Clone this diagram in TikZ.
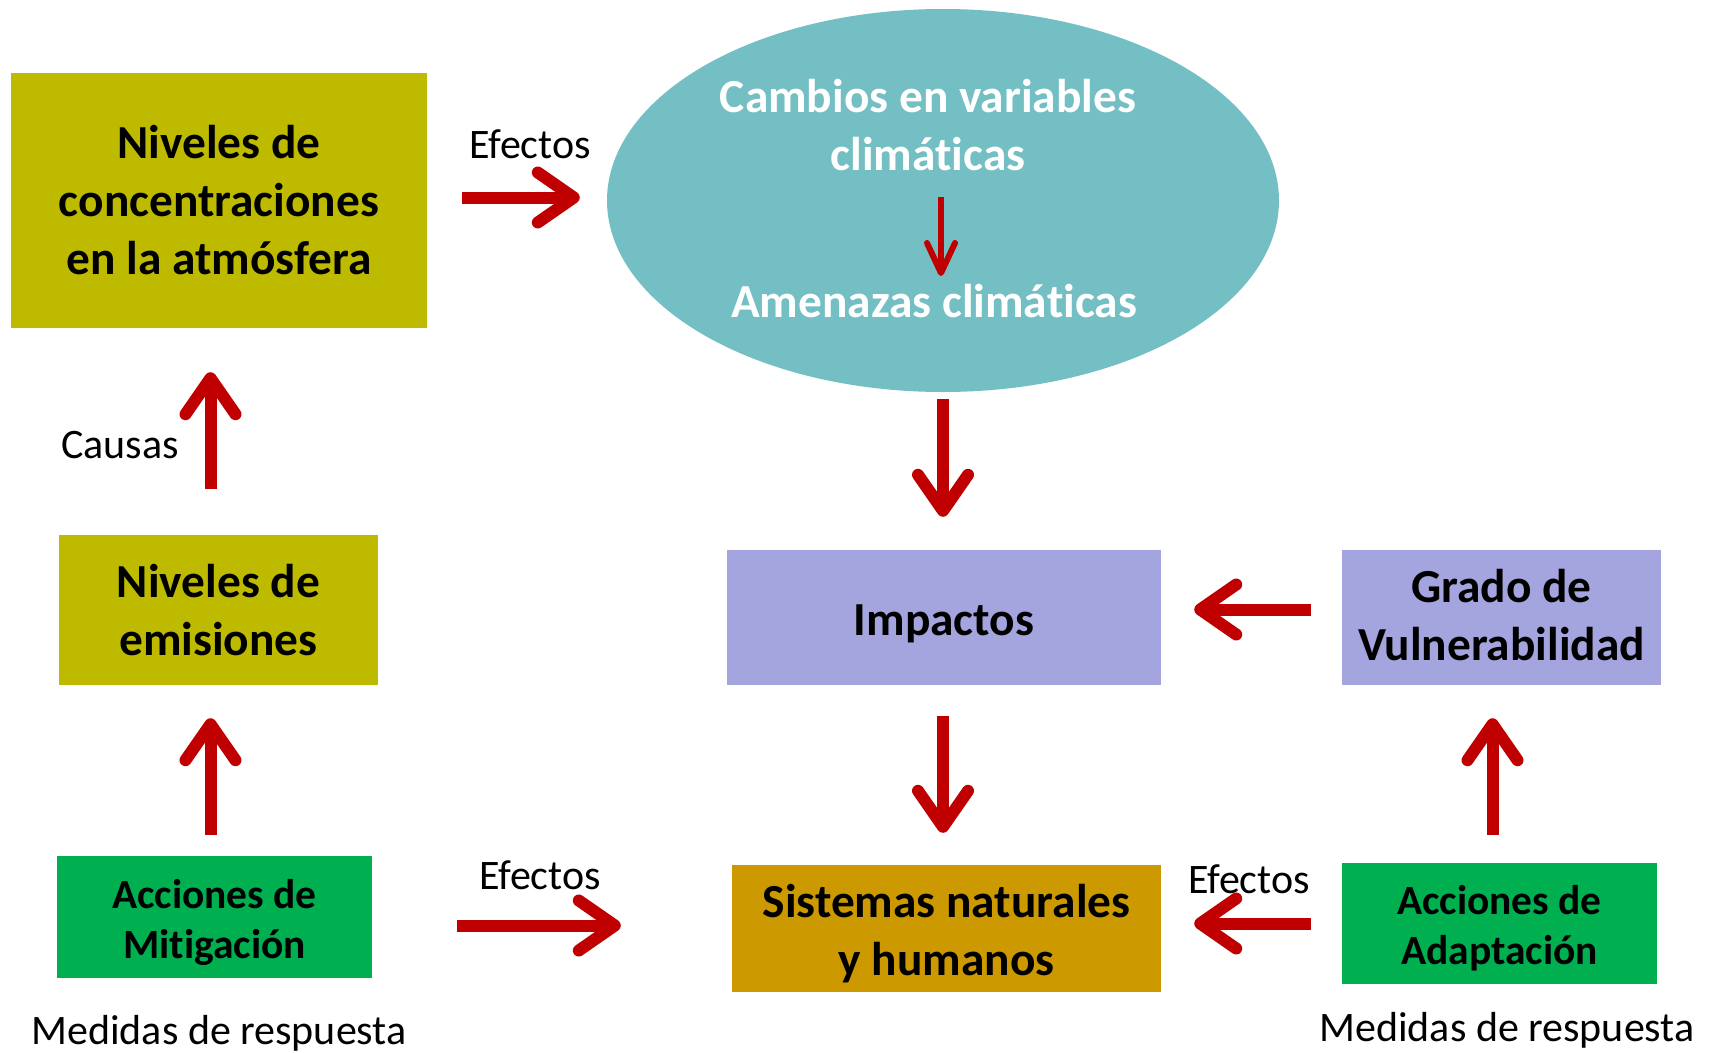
\documentclass[tikz,border=0pt]{standalone}
\usepackage{fontspec}
\setmainfont{Carlito}[Ligatures=NoCommon]
\usetikzlibrary{shapes.geometric,arrows.meta}
\definecolor{cOlive}{RGB}{190,186,0}
\definecolor{cTeal}{RGB}{116,191,196}
\definecolor{cLav}{RGB}{164,164,223}
\definecolor{cGreen}{RGB}{0,176,80}
\definecolor{cGold}{RGB}{204,153,0}
\definecolor{cRed}{RGB}{192,0,0}
\newcommand\fBig{\fontsize{47.4}{58}\selectfont}
\newcommand\fMid{\fontsize{41.5}{50}\selectfont}
\newcommand\fLbl{\fontsize{42}{50}\selectfont}
\newcommand\lowtxt[1]{\raisebox{-6pt}[\height][\depth]{\begin{tabular}{@{}c@{}}#1\end{tabular}}}
\begin{document}
\begin{tikzpicture}[x=1pt,y=-1pt,
  box/.style={rectangle, inner sep=0pt, align=center, font=\fBig\bfseries},
  mbox/.style={rectangle, inner sep=0pt, align=center, font=\fMid\bfseries},
  arr/.style={draw=cRed, line width=12pt, line cap=butt,
    -{Straight Barb[length=36pt,width=50pt,line cap=round,line join=round]}},
  sarr/.style={draw=cRed, line width=6pt,
    -{Straight Barb[length=30pt,width=28pt,line cap=round,line join=round]}},
  lbl/.style={inner sep=0pt, font=\fLbl},
  wtxt/.style={inner sep=0pt, align=center, text=white, font=\fBig\bfseries}]
\fill[white] (0,0) rectangle (1715,1052);
\useasboundingbox (0,0) rectangle (1715,1052);

% nodes
\node[box, fill=cOlive, minimum width=416pt, minimum height=255pt] (conc) at (219,200.5) {Niveles de\\concentraciones\\en la atmósfera};
\node[ellipse, fill=cTeal, inner sep=0pt, minimum width=672pt, minimum height=383pt] (ell) at (943,200.5) {};
\node[wtxt] (cam) at (928,125) {Cambios en variables\\climáticas};
\node[wtxt] (ame) at (934,301) {Amenazas climáticas};
\node[box, fill=cLav, minimum width=434pt, minimum height=135pt] (imp) at (944,617.5) {\lowtxt{Impactos}};
\node[box, fill=cLav, minimum width=319pt, minimum height=135pt] (vul) at (1501.5,617.5) {\raisebox{-2pt}[\height][\depth]{\begin{tabular}{@{}c@{}}Grado de\\Vulnerabilidad\end{tabular}}};
\node[box, fill=cOlive, minimum width=319pt, minimum height=150pt] (emi) at (218.5,610) {Niveles de\\emisiones};
\node[mbox, fill=cGreen, minimum width=315pt, minimum height=122pt] (mit) at (214.5,917) {\lowtxt{Acciones de\\Mitigación}};
\node[box, fill=cGold, minimum width=429pt, minimum height=127pt] (sis) at (946.5,928.5) {\lowtxt{Sistemas naturales\\y humanos}};
\node[mbox, fill=cGreen, minimum width=315pt, minimum height=121pt] (ada) at (1499.5,923.5) {\lowtxt{Acciones de\\Adaptación}};

% labels
\node[lbl] (ef1) at (530,144) {Efectos};
\node[lbl] (cau) at (120,445) {Causas};
\node[lbl] (ef2) at (540,875) {Efectos};
\node[lbl] (ef3) at (1249,879) {Efectos};
\node[lbl] (med1) at (219,1033) {Medidas de respuesta};
\node[lbl] (med2) at (1507,1030) {Medidas de respuesta};

% connectors
\draw[arr, shorten <=35pt, shorten >=27pt] ([yshift=3pt]conc.east) -- ([yshift=3pt]conc.east -| ell.west);
\draw[sarr, shorten <=26pt, shorten >=8pt] ([xshift=13pt]cam.south) -- ([xshift=7pt]ame.north);
\draw[arr, shorten <=7pt, shorten >=33pt] (ell.south) -- (ell.south |- imp.north);
\draw[arr, shorten <=31pt, shorten >=33pt] ([yshift=8pt]vul.west) -- ([yshift=8pt]vul.west -| imp.east);
\draw[arr, shorten <=46pt, shorten >=44pt] ([xshift=-8pt]emi.north) -- ([xshift=-8pt]emi.north |- conc.south);
\draw[arr, shorten <=21pt, shorten >=33pt] ([xshift=-4pt]mit.north) -- ([xshift=-4pt]mit.north |- emi.south);
\draw[arr, shorten <=85pt, shorten >=111pt] ([yshift=3pt]sis.west -| mit.east) -- ([yshift=3pt]sis.west);
\draw[arr, shorten <=31pt, shorten >=32pt] ([xshift=-1pt]imp.south) -- ([xshift=-1pt]imp.south |- sis.north);
\draw[arr, shorten <=31pt, shorten >=33pt] (ada.west) -- (ada.west -| sis.east);
\draw[arr, shorten <=28pt, shorten >=33pt] ([xshift=-7pt]ada.north) -- ([xshift=-7pt]ada.north |- vul.south);
\end{tikzpicture}
\end{document}
